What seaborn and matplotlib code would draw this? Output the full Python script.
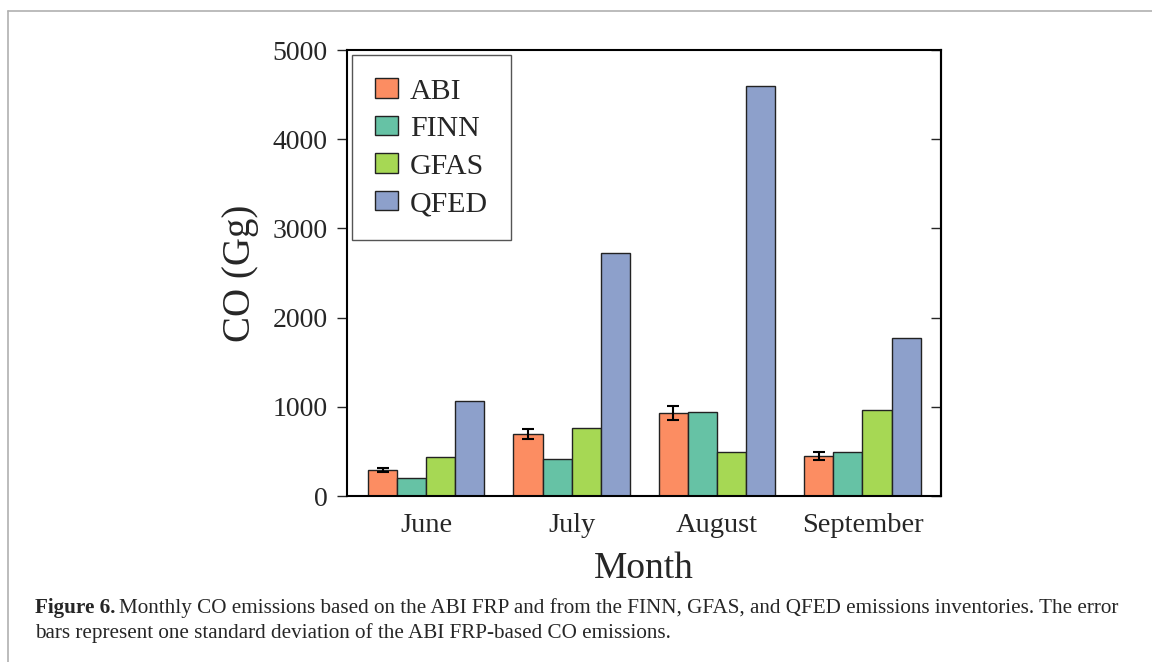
import matplotlib
matplotlib.use("Agg")
import matplotlib.pyplot as plt
import seaborn as sns
import pandas as pd
import numpy as np
from matplotlib.lines import Line2D

months = ["June", "July", "August", "September"]
sources = ["ABI", "FINN", "GFAS", "QFED"]
abi = [290, 695, 927, 448]
abi_err = [25, 55, 78, 40]
finn = [205, 415, 945, 497]
gfas = [434, 766, 490, 964]
qfed = [1065, 2724, 4596, 1771]
colors = ["#fc8d62", "#66c2a5", "#a6d854", "#8da0cb"]

sns.set_style("ticks")
plt.rcParams['font.family'] = ['Liberation Serif', 'DejaVu Serif']

rows = []
for s, vals in zip(sources, [abi, finn, gfas, qfed]):
    for m, v in zip(months, vals):
        rows.append({"Month": m, "Source": s, "CO": v})
df = pd.DataFrame(rows)

fig = plt.figure(figsize=(11.52, 6.62), dpi=100)
ax = fig.add_axes([347/1152, 1 - 496/662, (941-347)/1152, (496-50)/662])

sns.barplot(data=df, x="Month", y="CO", hue="Source", order=months,
            hue_order=sources, palette=dict(zip(sources, colors)),
            edgecolor="#222222", linewidth=1.0, errorbar=None, ax=ax,
            width=0.8, saturation=1)

# error bars on ABI bars
abi_patches = ax.patches[:len(months)]
xs = [p.get_x() + p.get_width() / 2 for p in abi_patches]
ax.errorbar(xs, abi, yerr=abi_err, fmt="none", ecolor="black",
            elinewidth=1.5, capsize=4, capthick=1.5, zorder=5)

ax.set_ylim(0, 5000)
ax.set_xlim(-0.545, 3.54)
ax.set_yticks([0, 1000, 2000, 3000, 4000, 5000])
ax.set_xlabel("Month", fontsize=27, labelpad=10)
ax.set_ylabel("CO (Gg)", fontsize=28, labelpad=10)
ax.tick_params(axis="y", labelsize=20, direction="out", length=7, width=1,
               right=False, pad=7)
ax.tick_params(axis="x", labelsize=20.5, length=0, pad=12)
for sp in ax.spines.values():
    sp.set_visible(True)
    sp.set_linewidth(1.5)
    sp.set_color("black")

# right ticks pointing inward
axr = ax.secondary_yaxis("right")
axr.set_yticks([0, 1000, 2000, 3000, 4000, 5000])
axr.tick_params(direction="in", length=7, width=1, labelright=False)
axr.spines["right"].set_linewidth(1.5)

leg = ax.legend(loc="upper left", fontsize=21.5, frameon=True, fancybox=False,
                edgecolor="#555555", framealpha=1, borderaxespad=0.17,
                borderpad=0.78, handlelength=0.75, handleheight=0.62,
                handletextpad=0.4, labelspacing=0.38, title=None)
leg.get_frame().set_linewidth(1.0)

# figure border lines
fig.add_artist(Line2D([8/1152, 1], [1 - 11/662, 1 - 11/662], color="#b0b0b0", lw=1.2))
fig.add_artist(Line2D([8/1152, 8/1152], [0, 1 - 11/662], color="#b0b0b0", lw=1.2))

# caption
cap_size = 15.2
y1 = 1 - 613/662
y2 = 1 - 638/662
x0 = 35/1152
t_bold = fig.text(x0, y1, "Figure 6.", fontsize=cap_size, fontweight="bold", va="baseline")
fig.canvas.draw()
bb = t_bold.get_window_extent(renderer=fig.canvas.get_renderer())
x1 = (bb.x1 + 4) / fig.bbox.width
fig.text(x1, y1, "Monthly CO emissions based on the ABI FRP and from the FINN, GFAS, and QFED emissions inventories. The error",
         fontsize=cap_size, va="baseline")
fig.text(x0, y2, "bars represent one standard deviation of the ABI FRP-based CO emissions.",
         fontsize=cap_size, va="baseline")

fig.savefig("out.png", dpi=100)
